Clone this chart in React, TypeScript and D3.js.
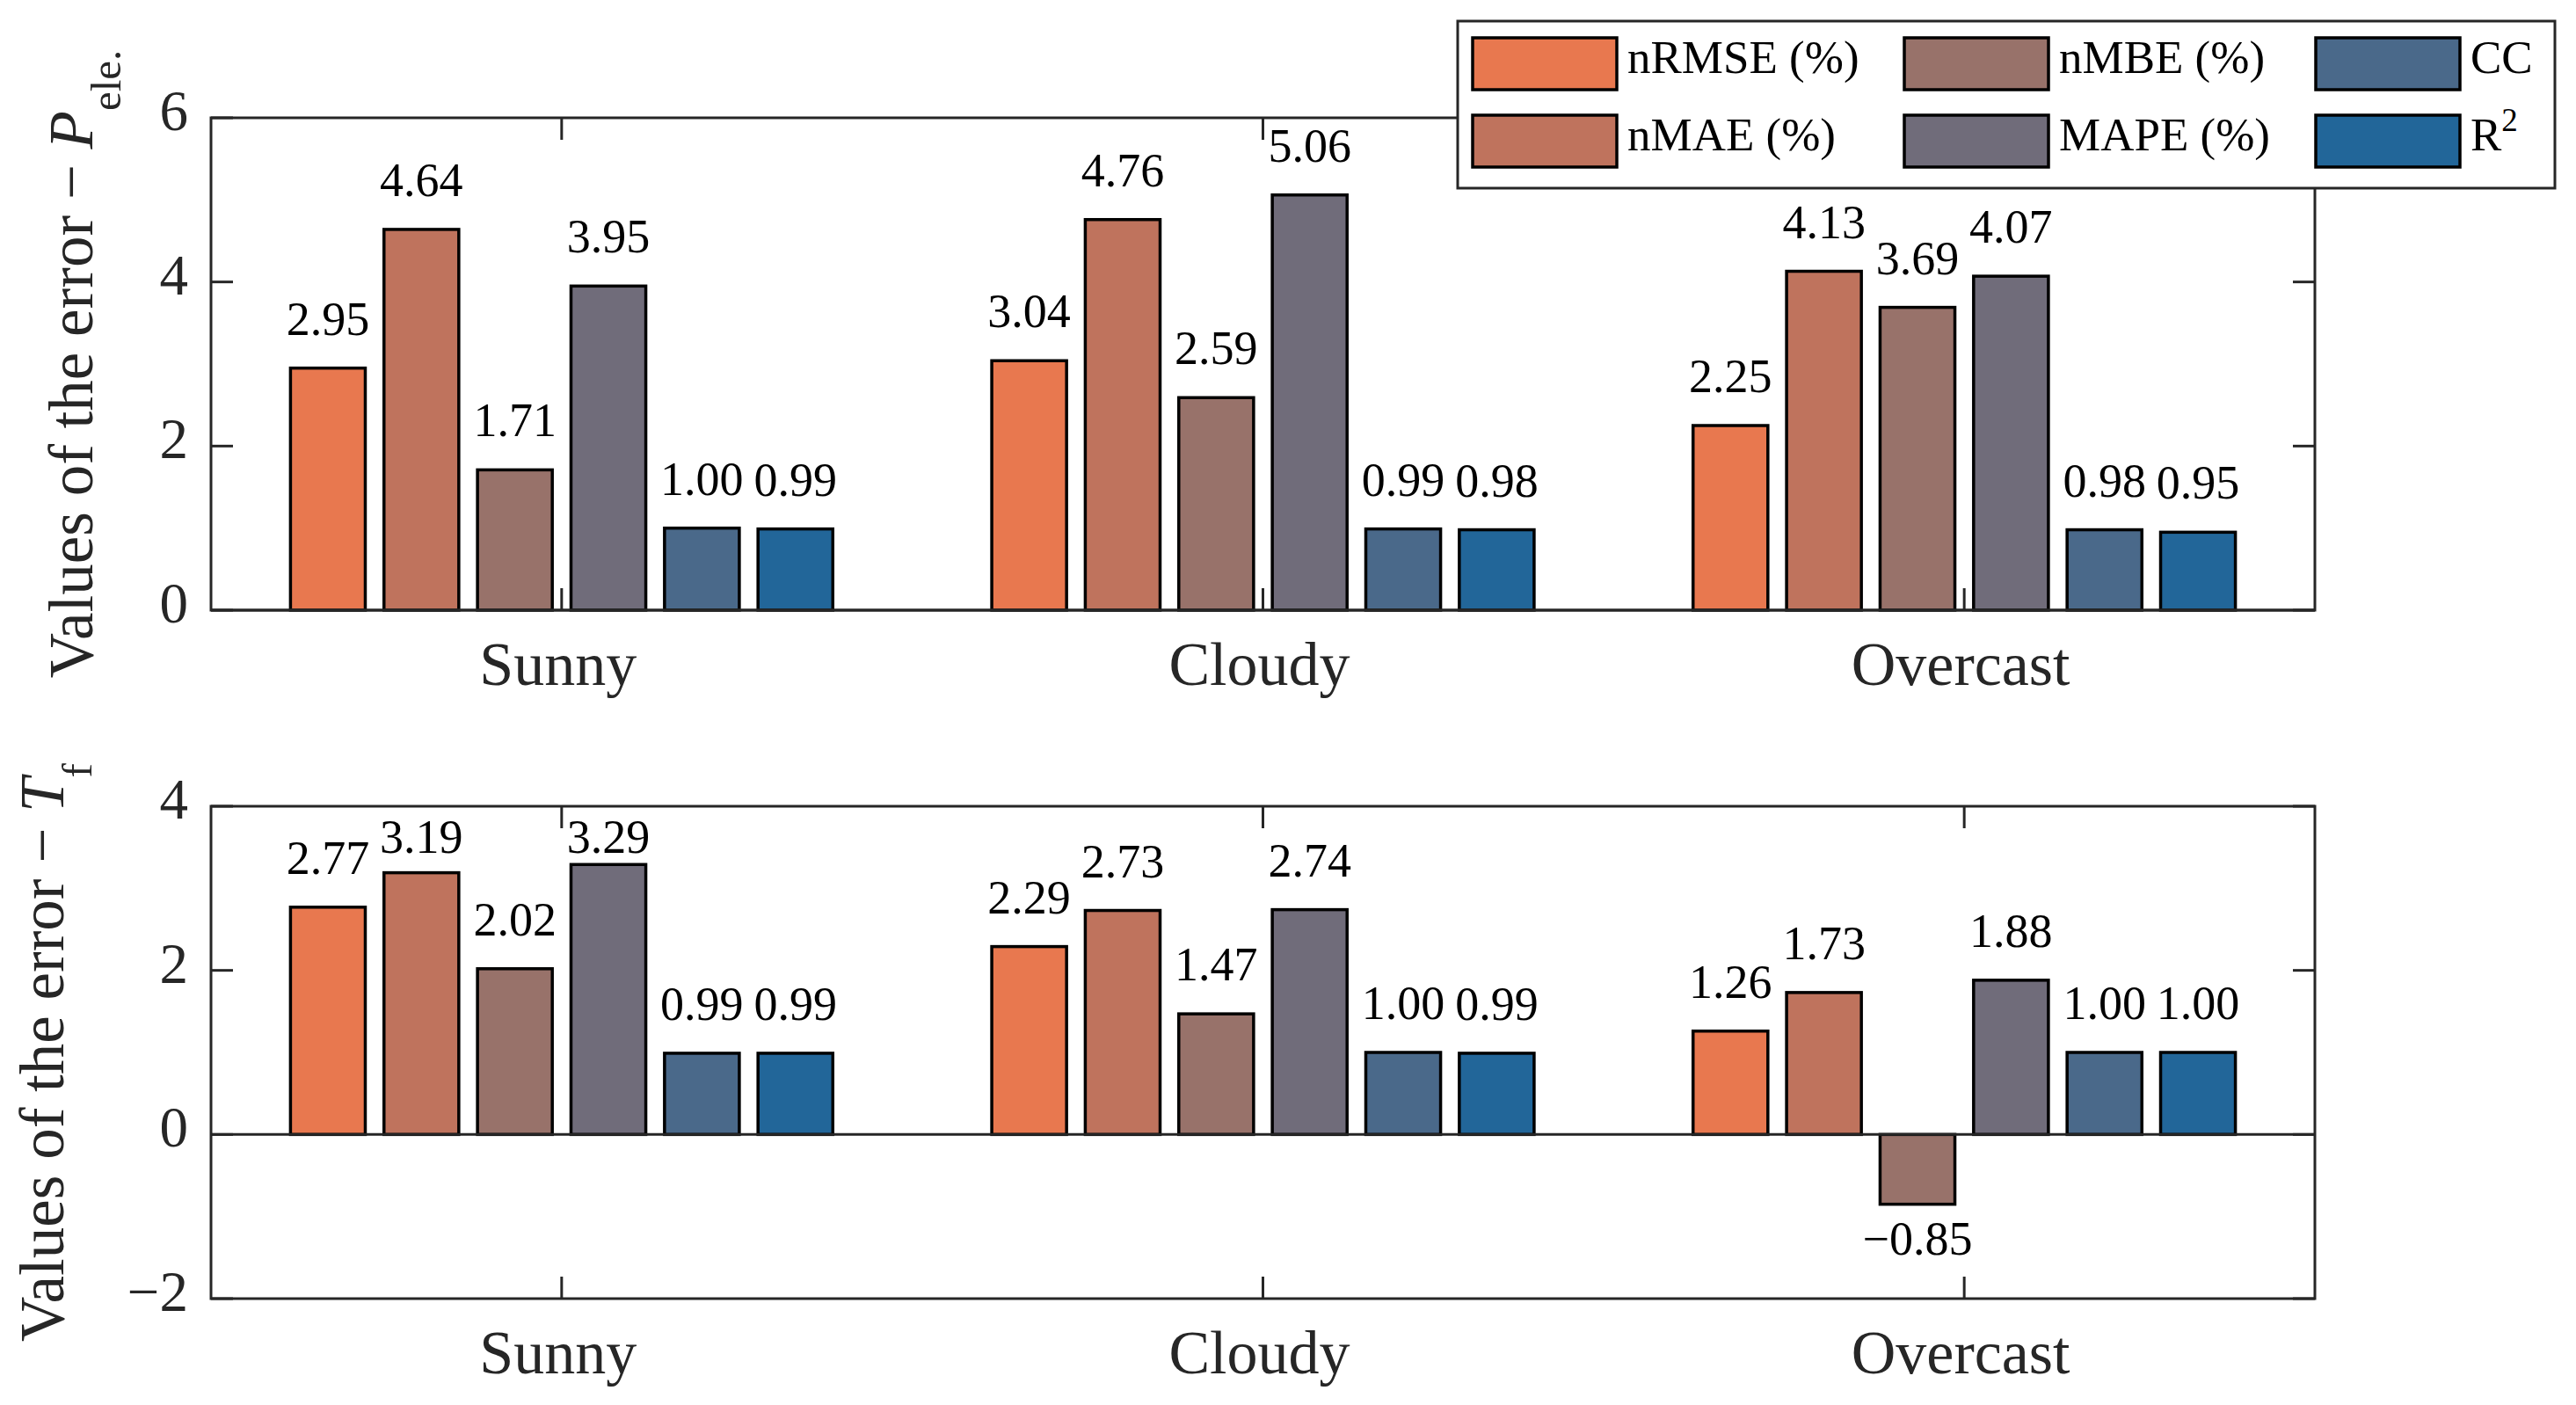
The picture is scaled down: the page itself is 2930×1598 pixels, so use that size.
import React, { useEffect } from 'react';
import * as d3 from 'd3';

// categories and metrics
const categories = ['Sunny', 'Cloudy', 'Overcast'];
const metrics = ['nRMSE', 'nMAE', 'nMBE', 'MAPE', 'CC', 'R2'];
const metricColors = ['#E8784F', '#BF735D', '#98726A', '#706C7A', '#4A698A', '#226699'];

// error values for the electrical power P_ele. (one row per category)
const powerErrors = [
  [2.95, 4.64, 1.71, 3.95, 1.0, 0.99],
  [3.04, 4.76, 2.59, 5.06, 0.99, 0.98],
  [2.25, 4.13, 3.69, 4.07, 0.98, 0.95],
];

// error values for the temperature T_f
const tempErrors = [
  [2.77, 3.19, 2.02, 3.29, 0.99, 0.99],
  [2.29, 2.73, 1.47, 2.74, 1.0, 0.99],
  [1.26, 1.73, -0.85, 1.88, 1.0, 1.0],
];

const powerTicks = [0, 2, 4, 6];
const tempTicks = [-2, 0, 2, 4];

const W = 2930;
const H = 1598;
const FONT = '"Liberation Serif", "Times New Roman", serif';
const AXIS = '#262626';
const LEFT = 240;
const RIGHT = 2633;
const TICK = 25;

const x = d3.scaleLinear().domain([0.5, 3.5]).range([LEFT, RIGHT]);
const inner = d3.scaleBand<string>()
  .domain(metrics)
  .range([-0.4, 0.4])
  .paddingInner(0.2)
  .paddingOuter(0.1);

function fmt(v: number) {
  return v < 0 ? '\u2212' + Math.abs(v).toFixed(2) : v.toFixed(2);
}

interface PanelProps {
  values: number[][];
  ticks: number[];
  top: number;
  bottom: number;
  titleX: number;
  sym: string;
  sub: string;
  labelCeil?: number;
}

function Panel({ values, ticks, top, bottom, titleX, sym, sub, labelCeil }: PanelProps) {
  const y = d3.scaleLinear().domain([ticks[0], ticks[ticks.length - 1]]).range([bottom, top]);
  const bw = x(inner.bandwidth()) - x(0);
  const ceilY = labelCeil !== undefined ? y(labelCeil) : -Infinity;
  const midY = (top + bottom) / 2;

  return (
    <g>
      {/* bars */}
      {values.map((row, ci) =>
        row.map((v, mi) => {
          const bx = x(ci + 1 + (inner(metrics[mi]) || 0));
          const y0 = y(0);
          const y1 = y(v);
          return (
            <rect
              key={`b${ci}-${mi}`}
              x={bx}
              y={Math.min(y0, y1)}
              width={bw}
              height={Math.abs(y1 - y0)}
              fill={metricColors[mi]}
              stroke="#000"
              strokeWidth={3.5}
            />
          );
        })
      )}

      {/* zero baseline */}
      <line x1={LEFT} x2={RIGHT} y1={y(0)} y2={y(0)} stroke={AXIS} strokeWidth={3} />

      {/* value labels */}
      {values.map((row, ci) =>
        row.map((v, mi) => {
          const cx = x(ci + 1 + (inner(metrics[mi]) || 0)) + bw / 2;
          const ty = v >= 0 ? Math.max(y(v) - 38, ceilY) : y(v) + 57;
          return (
            <text key={`t${ci}-${mi}`} x={cx} y={ty} textAnchor="middle" fontSize={54} fontFamily={FONT} fill="#000">
              {fmt(v)}
            </text>
          );
        })
      )}

      {/* frame */}
      <rect x={LEFT} y={top} width={RIGHT - LEFT} height={bottom - top} fill="none" stroke={AXIS} strokeWidth={3} />

      {/* y ticks */}
      {ticks.map(t => (
        <g key={`yt${t}`}>
          <line x1={LEFT} x2={LEFT + TICK} y1={y(t)} y2={y(t)} stroke={AXIS} strokeWidth={3} />
          <line x1={RIGHT} x2={RIGHT - TICK} y1={y(t)} y2={y(t)} stroke={AXIS} strokeWidth={3} />
          <text x={214} y={y(t) + 14} textAnchor="end" fontSize={65} fontFamily={FONT} fill={AXIS}>
            {t < 0 ? '\u2212' + Math.abs(t) : t}
          </text>
        </g>
      ))}

      {/* x ticks and category labels */}
      {categories.map((c, i) => (
        <g key={c}>
          <line x1={x(i + 1)} x2={x(i + 1)} y1={bottom} y2={bottom - TICK} stroke={AXIS} strokeWidth={3} />
          <line x1={x(i + 1)} x2={x(i + 1)} y1={top} y2={top + TICK} stroke={AXIS} strokeWidth={3} />
          <text x={x(i + 1) - 4} y={bottom + 85} textAnchor="middle" fontSize={70} fontFamily={FONT} fill={AXIS}>
            {c}
          </text>
        </g>
      ))}

      {/* y title */}
      <text
        transform={`translate(${titleX},${midY}) rotate(-90)`}
        textAnchor="middle"
        fontSize={71}
        fontFamily={FONT}
        fill={AXIS}
      >
        Values of the error {'\u2212'} <tspan fontStyle="italic">{sym}</tspan>
        <tspan fontSize={49} dy={32}>{sub}</tspan>
      </text>
    </g>
  );
}

function Legend() {
  const colX = [1675, 2166, 2634];
  const rowY = [43, 131];
  return (
    <g>
      <rect x={1658} y={24} width={1248} height={190} fill="#fff" stroke={AXIS} strokeWidth={3} />
      {metrics.map((m, i) => {
        const cx = colX[Math.floor(i / 2)];
        const ry = rowY[i % 2];
        return (
          <g key={m}>
            <rect x={cx} y={ry} width={164} height={59} fill={metricColors[i]} stroke="#000" strokeWidth={3.5} />
            <text x={cx + 176} y={ry + 40} fontSize={53} fontFamily={FONT} fill="#000">
              {m === 'R2' ? (
                <>
                  R<tspan fontSize={37} dy={-22}>2</tspan>
                </>
              ) : m === 'CC' ? (
                'CC'
              ) : (
                `${m} (%)`
              )}
            </text>
          </g>
        );
      })}
    </g>
  );
}

export default function App() {
  useEffect(() => {
    document.body.style.margin = '0';
  }, []);

  return (
    <svg width={W} height={H} viewBox={`0 0 ${W} ${H}`} style={{ display: 'block', background: '#fff' }}>
      <rect width={W} height={H} fill="#fff" />
      <Panel values={powerErrors} ticks={powerTicks} top={134} bottom={694} titleX={105} sym="P" sub="ele." />
      <Panel values={tempErrors} ticks={tempTicks} top={917} bottom={1477} titleX={72} sym="T" sub="f" labelCeil={3.43} />
      <Legend />
    </svg>
  );
}
